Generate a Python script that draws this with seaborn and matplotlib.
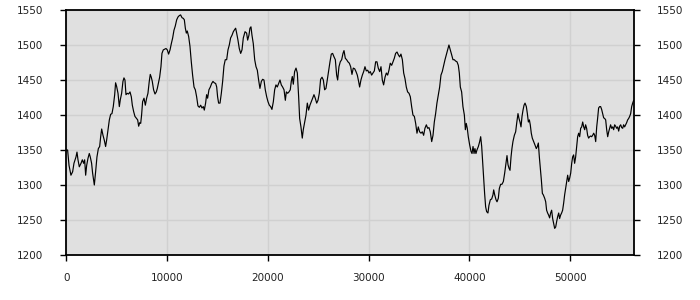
import matplotlib
matplotlib.use("Agg")
import matplotlib.pyplot as plt
import seaborn as sns
import pandas as pd

x_values = [0, 130, 270, 460, 630, 760, 960, 1060, 1160, 1290, 1460, 1590, 1720, 1820, 1920, 2020, 2150, 2280, 2380, 2510,
            2610, 2780, 2910, 3040, 3180, 3310, 3410, 3510, 3640, 3770, 3900, 4000, 4130, 4270, 4400, 4530, 4660, 4800, 4890, 4990,
            5130, 5260, 5360, 5490, 5620, 5720, 5820, 5920, 6050, 6180, 6320, 6450, 6550, 6680, 6810, 6980, 7080, 7180, 7280, 7380,
            7470, 7570, 7710, 7840, 7970, 8100, 8230, 8330, 8430, 8530, 8660, 8800, 8930, 9030, 9130, 9260, 9390, 9490, 9620, 9760,
            9890, 10020, 10150, 10290, 10420, 10550, 10680, 10810, 10950, 11080, 11210, 11340, 11480, 11610, 11710, 11810, 11910, 12000, 12140, 12270,
            12400, 12530, 12670, 12800, 12930, 13060, 13200, 13330, 13460, 13590, 13690, 13820, 13920, 14020, 14150, 14290, 14420, 14550, 14680, 14820,
            14920, 15010, 15110, 15250, 15380, 15510, 15640, 15770, 15910, 16040, 16170, 16300, 16440, 16570, 16700, 16800, 16900, 17030, 17160, 17300,
            17430, 17560, 17730, 17890, 17990, 18120, 18220, 18320, 18420, 18550, 18690, 18820, 18950, 19080, 19210, 19350, 19480, 19610, 19740, 19880,
            20010, 20140, 20270, 20400, 20540, 20670, 20800, 20930, 21070, 21200, 21330, 21460, 21600, 21730, 21830, 21960, 22090, 22220, 22320, 22420,
            22520, 22650, 22790, 22920, 23050, 23150, 23280, 23410, 23510, 23650, 23780, 23910, 24040, 24170, 24310, 24440, 24570, 24700, 24840, 24970,
            25100, 25230, 25370, 25500, 25630, 25760, 25890, 26030, 26160, 26290, 26420, 26560, 26690, 26820, 26920, 27050, 27180, 27320, 27450, 27550,
            27680, 27810, 27940, 28080, 28210, 28340, 28470, 28610, 28740, 28870, 29000, 29100, 29230, 29370, 29500, 29630, 29760, 29900, 30030, 30160,
            30290, 30420, 30560, 30690, 30820, 30950, 31090, 31220, 31350, 31480, 31620, 31750, 31880, 32010, 32140, 32280, 32410, 32540, 32670, 32810,
            32940, 33070, 33200, 33340, 33470, 33600, 33730, 33860, 34000, 34130, 34260, 34390, 34530, 34660, 34790, 34920, 35050, 35190, 35320, 35450,
            35580, 35720, 35850, 35980, 36110, 36250, 36380, 36510, 36640, 36770, 36910, 37040, 37170, 37300, 37440, 37570, 37700, 37830, 37960, 38100,
            38230, 38360, 38490, 38630, 38760, 38890, 38990, 39090, 39220, 39350, 39490, 39590, 39680, 39780, 39880, 40020, 40150, 40250, 40350, 40450,
            40540, 40640, 40740, 40880, 41010, 41110, 41210, 41310, 41400, 41500, 41600, 41700, 41830, 41930, 42070, 42200, 42330, 42400, 42500, 42630,
            42730, 42860, 42960, 43090, 43220, 43360, 43490, 43620, 43720, 43820, 43920, 44020, 44120, 44210, 44310, 44450, 44580, 44680, 44810, 44910,
            45010, 45110, 45210, 45310, 45410, 45510, 45640, 45740, 45840, 45940, 46030, 46130, 46230, 46370, 46500, 46630, 46730, 46830, 46930, 47030,
            47130, 47230, 47320, 47460, 47560, 47650, 47750, 47850, 47950, 48050, 48150, 48250, 48350, 48450, 48550, 48650, 48750, 48850, 48940, 49040,
            49140, 49240, 49340, 49440, 49540, 49640, 49740, 49840, 49940, 50040, 50140, 50230, 50330, 50430, 50530, 50630, 50730, 50830, 50930, 51030,
            51130, 51230, 51330, 51430, 51520, 51620, 51720, 51820, 51920, 52020, 52120, 52220, 52320, 52420, 52520, 52620, 52710, 52810, 52910, 53010,
            53110, 53210, 53310, 53410, 53510, 53610, 53710, 53810, 53910, 54000, 54100, 54200, 54300, 54400, 54500, 54600, 54700, 54800, 54900, 55000,
            55100, 55200, 55290, 55390, 55490, 55590, 55690, 55790, 55890, 55990, 56090, 56190, 56290, 56350]

y_values = [1350, 1350, 1328, 1314, 1319, 1331, 1340, 1347, 1336, 1326, 1331, 1336, 1331, 1336, 1314, 1328, 1338, 1345, 1340, 1331,
            1317, 1300, 1319, 1340, 1352, 1355, 1369, 1380, 1371, 1364, 1355, 1364, 1378, 1393, 1401, 1402, 1412, 1429, 1446, 1441,
            1431, 1412, 1422, 1431, 1448, 1453, 1450, 1429, 1431, 1430, 1433, 1426, 1414, 1405, 1398, 1395, 1393, 1384, 1389, 1388,
            1400, 1419, 1424, 1414, 1424, 1431, 1448, 1458, 1454, 1448, 1436, 1430, 1433, 1438, 1445, 1454, 1469, 1488, 1493, 1494,
            1495, 1493, 1487, 1493, 1502, 1510, 1521, 1527, 1536, 1540, 1542, 1543, 1539, 1538, 1536, 1524, 1517, 1520, 1512, 1498,
            1476, 1457, 1440, 1436, 1426, 1413, 1411, 1414, 1410, 1412, 1407, 1417, 1429, 1424, 1436, 1440, 1445, 1448, 1446, 1445,
            1440, 1426, 1417, 1417, 1431, 1448, 1470, 1479, 1479, 1493, 1500, 1510, 1514, 1519, 1522, 1524, 1517, 1507, 1495, 1488,
            1493, 1510, 1519, 1517, 1507, 1514, 1524, 1526, 1514, 1502, 1479, 1469, 1464, 1450, 1438, 1448, 1451, 1450, 1436, 1426,
            1419, 1414, 1412, 1408, 1419, 1436, 1443, 1440, 1445, 1450, 1443, 1440, 1436, 1421, 1433, 1431, 1433, 1436, 1448, 1455,
            1444, 1462, 1467, 1460, 1426, 1395, 1383, 1367, 1379, 1390, 1400, 1417, 1407, 1414, 1419, 1424, 1429, 1424, 1417, 1421,
            1431, 1451, 1454, 1450, 1436, 1438, 1450, 1464, 1476, 1487, 1488, 1483, 1479, 1457, 1450, 1469, 1476, 1479, 1488, 1492,
            1481, 1479, 1476, 1474, 1469, 1458, 1467, 1466, 1462, 1457, 1448, 1440, 1450, 1457, 1462, 1469, 1463, 1464, 1460, 1462,
            1457, 1460, 1463, 1476, 1476, 1467, 1462, 1469, 1450, 1443, 1454, 1460, 1457, 1464, 1474, 1471, 1476, 1481, 1488, 1490,
            1486, 1483, 1487, 1479, 1460, 1452, 1440, 1433, 1431, 1426, 1412, 1400, 1398, 1388, 1374, 1383, 1376, 1374, 1376, 1371,
            1381, 1386, 1381, 1382, 1376, 1362, 1371, 1390, 1402, 1417, 1429, 1440, 1457, 1462, 1471, 1479, 1486, 1493, 1500, 1493,
            1486, 1479, 1479, 1477, 1476, 1471, 1460, 1440, 1433, 1412, 1400, 1379, 1388, 1381, 1369, 1357, 1348, 1345, 1355, 1345,
            1352, 1345, 1350, 1355, 1362, 1369, 1355, 1331, 1312, 1288, 1269, 1262, 1260, 1271, 1279, 1280, 1286, 1293, 1286, 1279,
            1276, 1281, 1295, 1301, 1301, 1305, 1317, 1331, 1342, 1329, 1324, 1321, 1340, 1352, 1362, 1371, 1376, 1388, 1402, 1395,
            1390, 1383, 1398, 1407, 1414, 1417, 1412, 1402, 1390, 1393, 1386, 1374, 1367, 1362, 1357, 1352, 1355, 1360, 1340, 1324,
            1307, 1288, 1286, 1281, 1276, 1264, 1260, 1257, 1253, 1260, 1264, 1252, 1245, 1238, 1240, 1248, 1255, 1260, 1252, 1257,
            1260, 1264, 1274, 1286, 1295, 1305, 1314, 1305, 1310, 1317, 1331, 1340, 1343, 1331, 1340, 1355, 1369, 1374, 1369, 1381,
            1383, 1390, 1383, 1379, 1386, 1381, 1371, 1367, 1369, 1370, 1369, 1371, 1374, 1371, 1362, 1383, 1395, 1410, 1412, 1412,
            1408, 1402, 1396, 1395, 1393, 1379, 1369, 1376, 1381, 1386, 1381, 1383, 1379, 1386, 1384, 1381, 1383, 1377, 1384, 1386,
            1382, 1381, 1386, 1383, 1386, 1389, 1393, 1395, 1398, 1402, 1412, 1417, 1421, 1419]

x_ticks = [0, 10000, 20000, 30000, 40000, 50000]
y_ticks = [1200, 1250, 1300, 1350, 1400, 1450, 1500, 1550]

n = min(len(x_values), len(y_values))
df = pd.DataFrame({"x": x_values[:n], "y": y_values[:n]})

sns.set_style("white")
plt.rcParams['font.family'] = ['DejaVu Sans']

fig = plt.figure(figsize=(7, 3), dpi=100)
ax = fig.add_axes([66.3 / 700, 1 - 255 / 300, (634.3 - 66.3) / 700, 245 / 300])
sns.lineplot(data=df, x="x", y="y", ax=ax, color="black", linewidth=0.85, estimator=None, sort=False)

ax.set_facecolor("#e0e0e0")
ax.set_xlim(0, 56350)
ax.set_ylim(1200, 1550)
ax.set_xticks(x_ticks)
ax.set_yticks(y_ticks)
ax.set_xticklabels([str(t) for t in x_ticks])
ax.set_yticklabels([str(t) for t in y_ticks])
ax.grid(True, color="#d0d0d0", linewidth=1.0)
ax.set_axisbelow(True)
ax.set_xlabel("")
ax.set_ylabel("")
for s in ax.spines.values():
    s.set_visible(True)
    s.set_color("black")
    s.set_linewidth(1.3)

ax.tick_params(axis="y", which="both", left=True, right=True, labelleft=True, labelright=True,
               direction="out", length=4, width=1, color="black", labelsize=7.5, pad=12.5, labelcolor="#222222")
ax.tick_params(axis="x", bottom=True, direction="out", length=4, width=1, color="black",
               labelsize=7.5, pad=9, labelcolor="#222222")

fig.savefig("out.png", dpi=100)
